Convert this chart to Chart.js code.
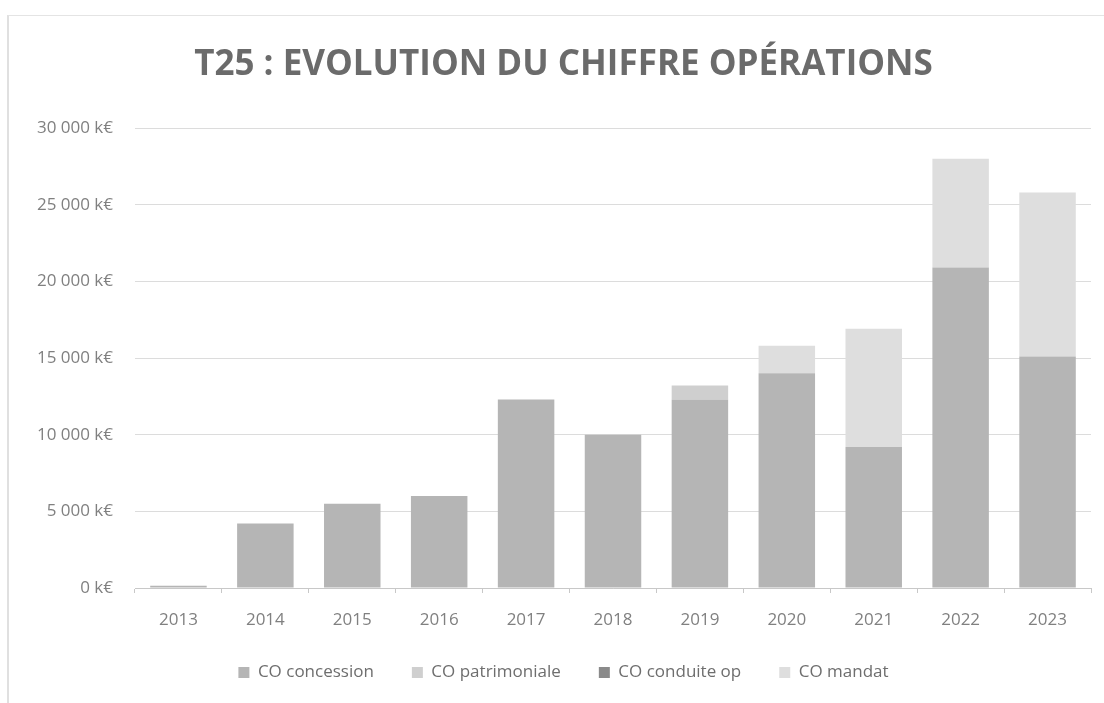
<!DOCTYPE html>
<html>
<head>
<meta charset="utf-8">
<script src="https://cdn.jsdelivr.net/npm/chart.js@4.4.0/dist/chart.umd.min.js"></script>
<style>
  body { margin: 0; background: #fff; }
  #frame { position: absolute; left: 7px; top: 15px; width: 1097px; height: 688px;
           border-top: 1px solid #e4e4e4; border-left: 2px solid #e0e0e0; }
  #wrap { position: absolute; left: 0; top: 0; width: 1104px; height: 703px; }
</style>
</head>
<body>
<div id="frame"></div>
<div id="wrap"><canvas id="chart" width="1104" height="703"></canvas></div>
<script>
var years = ["2013", "2014", "2015", "2016", "2017", "2018", "2019", "2020", "2021", "2022", "2023"];
var concession   = [150, 4200, 5500, 6000, 12300, 10000, 12300, 14000, 9200, 20900, 15100];
var patrimoniale = [0, 0, 0, 0, 0, 0, 900, 0, 0, 0, 0];
var conduiteOp   = [0, 0, 0, 0, 0, 0, 0, 0, 0, 0, 0];
var mandat       = [0, 0, 0, 0, 0, 0, 0, 1800, 7700, 7100, 10700];
var yTicks = [0, 5000, 10000, 15000, 20000, 25000, 30000];

function fmt(v) {
    return String(v).replace(/\B(?=(\d{3})+(?!\d))/g, " ") + " k€";
}

var ctx = document.getElementById("chart").getContext("2d");
new Chart(ctx, {
    type: "bar",
    data: {
        labels: years,
        datasets: [
            { label: "CO concession", data: concession, backgroundColor: "#b5b5b5" },
            { label: "CO patrimoniale", data: patrimoniale, backgroundColor: "#cfcfcf" },
            { label: "CO conduite op", data: conduiteOp, backgroundColor: "#8a8a8a" },
            { label: "CO mandat", data: mandat, backgroundColor: "#dedede" }
        ]
    },
    options: {
        responsive: false,
        animation: false,
        layout: { padding: { left: 36, right: 13, top: 44, bottom: 12 } },
        datasets: { bar: { barPercentage: 0.65, categoryPercentage: 1 } },
        plugins: {
            title: {
                display: true,
                text: "T25 : EVOLUTION DU CHIFFRE OPÉRATIONS",
                color: "#6b6b6b",
                font: { family: "Open Sans", size: 35, weight: "bold" },
                padding: { top: 0, bottom: 42 }
            },
            legend: {
                position: "bottom",
                labels: {
                    color: "#6e6e6e",
                    font: { family: "Open Sans", size: 17 },
                    boxWidth: 11, boxHeight: 11, padding: 38
                }
            },
            tooltip: { enabled: false }
        },
        scales: {
            x: {
                stacked: true,
                grid: { display: true, drawOnChartArea: false, offset: true, color: "#c8c8c8", tickLength: 5 },
                border: { color: "#c8c8c8" },
                ticks: { color: "#808080", font: { family: "Open Sans", size: 17 }, padding: 17 },
                afterFit: function (s) { s.height = 38; }
            },
            y: {
                stacked: true,
                min: 0, max: 30000,
                afterBuildTicks: function (s) { s.ticks = yTicks.map(function (v) { return { value: v }; }); },
                afterFit: function (s) { s.width = 99; },
                grid: { color: "#dcdcdc", drawTicks: false },
                border: { display: false },
                ticks: {
                    color: "#808080", font: { family: "Open Sans", size: 17 }, padding: 22,
                    callback: function (v) { return fmt(v); }
                }
            }
        }
    }
});
</script>
</body>
</html>
